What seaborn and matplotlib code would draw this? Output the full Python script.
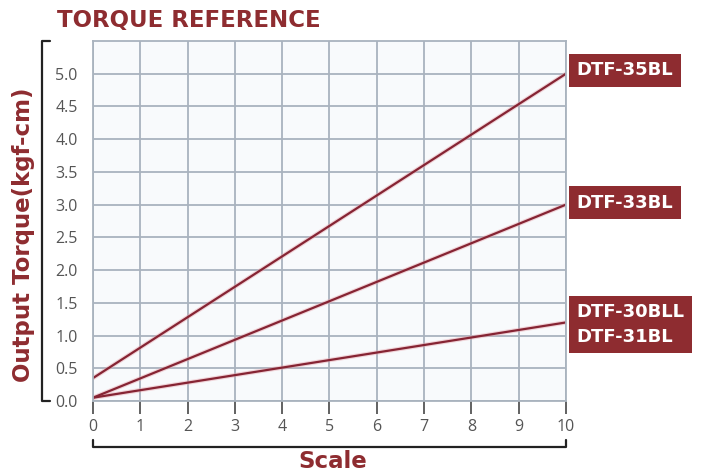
import matplotlib
matplotlib.use("Agg")
import matplotlib.pyplot as plt
import matplotlib.transforms as mtransforms
from matplotlib.lines import Line2D
import seaborn as sns
import pandas as pd

# values
scale = [0, 10]
dtf35 = [0.35, 5.0]
dtf33 = [0.05, 3.0]
dtf30 = [0.05, 1.2]
series_names = ["DTF-35BL", "DTF-33BL", "DTF-30BLL\nDTF-31BL"]
label_y = [5.05, 3.03, 1.17]
x_ticks = list(range(0, 11))
y_ticks = [0.0, 0.5, 1.0, 1.5, 2.0, 2.5, 3.0, 3.5, 4.0, 4.5, 5.0]

RED = "#8e2c30"
LINE = "#862433"
GRID = "#a9b3be"
HEAD = ["DejaVu Sans"]

df = pd.concat([
    pd.DataFrame({"scale": scale, "torque": vals, "model": name})
    for name, vals in zip(series_names, [dtf35, dtf33, dtf30])
])

sns.set_theme(style="white")
plt.rcParams["font.family"] = ["Open Sans", "DejaVu Sans"]

fig = plt.figure(figsize=(7.03, 4.76), dpi=100)
ax = fig.add_axes([0.1323, 0.1576, 0.6728, 0.7563])
ax.set_facecolor("#f8fafc")

# soft pink halo under the lines, then the lines themselves
sns.lineplot(data=df, x="scale", y="torque", units="model", estimator=None,
             color="#e7a5ad", linewidth=3.2, alpha=0.45, ax=ax, legend=False)
sns.lineplot(data=df, x="scale", y="torque", units="model", estimator=None,
             color=LINE, linewidth=1.6, ax=ax, legend=False)

ax.set_xlim(0, 10)
ax.set_ylim(0, 5.5)
ax.set_xticks(x_ticks)
ax.set_yticks(y_ticks)
ax.set_yticklabels([f"{v:.1f}" for v in y_ticks])
ax.grid(True, color=GRID, linewidth=1.3)
ax.set_axisbelow(True)
for sp in ax.spines.values():
    sp.set_color(GRID)
    sp.set_linewidth(1.3)

ax.tick_params(axis="x", length=9, width=1.3, color="#555555", direction="out",
               pad=4, labelsize=11.5, labelcolor="#555555", bottom=True)
ax.tick_params(axis="y", length=0, pad=11, labelsize=11.5, labelcolor="#555555")

ax.set_xlabel("")
ax.set_ylabel("")

# model tags to the right of the plot
trans = mtransforms.blended_transform_factory(ax.transAxes, ax.transData)
for name, yv in zip(series_names, label_y):
    ax.text(1.022, yv, name, transform=trans, ha="left", va="center",
            color="white", fontsize=13, fontweight="bold", family=HEAD,
            linespacing=1.45,
            bbox=dict(boxstyle="square,pad=0.42", facecolor=RED, edgecolor="none"),
            clip_on=False)

# bracket style axis guides
W, H = 703, 476
def fx(px):
    return px / W
def fy(py):
    return 1 - py / H

fig.add_artist(Line2D([fx(50), fx(42), fx(42), fx(50)],
                      [fy(41), fy(41), fy(401), fy(401)],
                      color="#222222", linewidth=1.6))
fig.add_artist(Line2D([fx(93), fx(93), fx(566), fx(566)],
                      [fy(440), fy(447), fy(447), fy(440)],
                      color="#222222", linewidth=1.6))

fig.text(fx(57), fy(21), "TORQUE REFERENCE", ha="left", va="center",
         color=RED, fontsize=16.5, fontweight="bold", family=HEAD)
fig.text(fx(24), fy(235), "Output Torque(kgf-cm)", ha="center", va="center",
         rotation=90, color=RED, fontsize=16.5, fontweight="bold", family=HEAD)
fig.text(fx(333), fy(462), "Scale", ha="center", va="center",
         color=RED, fontsize=16.5, fontweight="bold", family=HEAD)

fig.savefig("out.png", dpi=100)
